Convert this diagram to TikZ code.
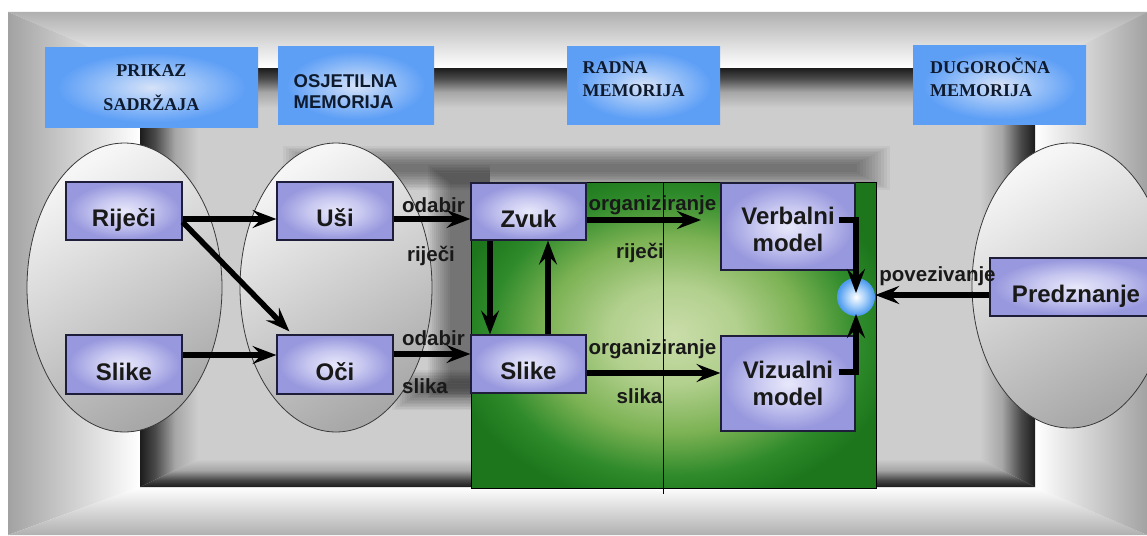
\documentclass[tikz,border=0pt]{standalone}
\usepackage{fontspec}
\setmainfont{Liberation Serif}
\newfontfamily\arialfont{Liberation Sans}
\usetikzlibrary{shapes.geometric,arrows.meta}

% palette
\definecolor{frameA}{HTML}{B0B0B0}
\definecolor{frameB}{HTML}{A2A2A2}
\definecolor{recess}{HTML}{CDCDCD}
\definecolor{bevlight}{HTML}{A6A6A6}
\definecolor{bevmid}{HTML}{4A4A4A}
\definecolor{bevdark}{HTML}{1C1C1C}
\definecolor{hdrA}{HTML}{D6E2F8}
\definecolor{hdrB}{HTML}{9EC4F8}
\definecolor{hdrC}{HTML}{5E9FF6}
\definecolor{lavA}{HTML}{E8E8FB}
\definecolor{lavB}{HTML}{C6C6F0}
\definecolor{lavC}{HTML}{9898DE}
\definecolor{boxline}{HTML}{1E1E3A}
\definecolor{grA}{HTML}{CADDAA}
\definecolor{grA2}{HTML}{B2D08E}
\definecolor{grB}{HTML}{7CB254}
\definecolor{grC}{HTML}{2E8A2A}
\definecolor{grD}{HTML}{1D761C}
\definecolor{orbB}{HTML}{A8D0FA}
\definecolor{orbC}{HTML}{4E9CEE}
\definecolor{hdrtext}{HTML}{0E1A2E}
\definecolor{elA}{HTML}{F6F6F6}
\definecolor{elB}{HTML}{A8A8A8}
\definecolor{elline}{HTML}{3A3A3A}

% shadings (the middle 50bp of each shading covers the filled path)
\pgfdeclareverticalshading{bevelsh}{100bp}{color(0bp)=(recess); color(25bp)=(recess); color(45bp)=(bevlight); color(62bp)=(bevmid); color(75bp)=(bevdark); color(100bp)=(bevdark)}
\pgfdeclareradialshading{hdrglow}{\pgfpoint{0bp}{0bp}}{color(0bp)=(hdrA); color(10bp)=(hdrB); color(22bp)=(hdrC); color(50bp)=(hdrC)}
\pgfdeclareradialshading{lavglow}{\pgfpoint{0bp}{0bp}}{color(0bp)=(lavA); color(12bp)=(lavB); color(24bp)=(lavC); color(50bp)=(lavC)}
\pgfdeclareradialshading{greenglow}{\pgfpoint{0bp}{0bp}}{color(0bp)=(grA); color(8bp)=(grA2); color(16bp)=(grB); color(23bp)=(grC); color(28bp)=(grD); color(50bp)=(grD)}
\pgfdeclareradialshading{orbglow}{\pgfpoint{0bp}{0bp}}{color(0bp)=(white); color(12bp)=(orbB); color(24bp)=(orbC); color(50bp)=(orbC)}

\begin{document}
\begin{tikzpicture}[x=1pt,y=-1pt,
  hdr/.style={rectangle, inner sep=0pt, shade, shading=hdrglow},
  hdrtxt/.style={inner sep=0pt, text=hdrtext, font=\bfseries\fontsize{18}{20}\selectfont},
  hdrsans/.style={inner sep=0pt, text=hdrtext, font=\arialfont\bfseries\fontsize{18.5}{20}\selectfont},
  stage/.style={ellipse, draw=elline, line width=0.8pt, inner sep=0pt, top color=elA, bottom color=elB, shading angle=30},
  unit/.style={rectangle, draw=boxline, line width=1.2pt, shade, shading=lavglow, inner sep=0pt, text=black!90, font=\arialfont\bfseries\fontsize{24}{27}\selectfont},
  unit1/.style={unit, text height=31pt, text depth=0pt},
  unit2/.style={unit, align=center},
  flow/.style={line width=5.5pt, -{Stealth[length=24pt,width=18pt,inset=9pt]}},
  tag/.style={inner sep=0pt, anchor=base, text=black!90, font=\arialfont\bfseries\fontsize{20.5}{24}\selectfont},
  haze/.style={fill=black, fill opacity=0.045, draw=none},
]
\useasboundingbox (0,0) rectangle (1147,535);
\clip (0,0) rectangle (1147,535);
\fill[white] (0,0) rectangle (1147,535);

% outer mitred frame
\shade[top color=frameA, bottom color=white] (8,12) -- (1147,12) -- (1035,68) -- (140,68) -- cycle;
\shade[left color=frameB, right color=white] (8,12) -- (140,68) -- (140,487) -- (8,535) -- cycle;
\shade[top color=white, bottom color=frameA] (140,487) -- (1035,487) -- (1147,535) -- (8,535) -- cycle;
\shade[left color=white, right color=frameB] (1035,68) -- (1147,12) -- (1147,535) -- (1035,487) -- cycle;

% recessed panel with dark bevelled rim
\fill[recess] (140,68) rectangle (1035,487);
\shade[shading=bevelsh] (140,68) -- (1035,68) -- (980,108) -- (198,108) -- cycle;
\shade[shading=bevelsh, shading angle=90] (140,68) -- (198,108) -- (198,459) -- (140,487) -- cycle;
\shade[shading=bevelsh, shading angle=180] (140,487) -- (198,459) -- (980,459) -- (1035,487) -- cycle;
\shade[shading=bevelsh, shading angle=-90] (1035,68) -- (1035,487) -- (980,459) -- (980,108) -- cycle;

% soft blurred shadows around the working-memory panel
\foreach \i in {0,...,11} {
  \fill[haze] (283+3*\i,146+1.6*\i) rectangle (890-3*\i,190-1.6*\i);
  \fill[haze] (428+2*\i,165+1.5*\i) rectangle (490,398-1.5*\i);
  \fill[haze] (392+2.5*\i,370+1.5*\i) rectangle (490,410-1.5*\i);
}

% memory stages
\node[stage, minimum width=195pt, minimum height=289pt] (el1) at (124.5,287.5) {};
\node[stage, minimum width=192pt, minimum height=289pt] (el2) at (336,287.5) {};
\node[stage, minimum width=196pt, minimum height=285pt] (el3) at (1070,285.5) {};

% column headings
\node[hdr, minimum width=213pt, minimum height=79pt] (hd1) at (151.5,87.5) {};
\node[hdrtxt, anchor=base] (hd1a) at (151.5,76.5) {PRIKAZ};
\node[hdrtxt, anchor=base] (hd1b) at (151.5,110) {SADRŽAJA};
\node[hdr, minimum width=156pt, minimum height=77pt] (hd2) at (356,85.5) {};
\node[hdrsans, anchor=base west] (hd2a) at (293.5,87) {OSJETILNA};
\node[hdrsans, anchor=base west] (hd2b) at (293.5,108) {MEMORIJA};
\node[hdr, minimum width=153pt, minimum height=77pt] (hd3) at (643.5,85.5) {};
\node[hdrtxt, anchor=base west] (hd3a) at (582.5,73) {RADNA};
\node[hdrtxt, anchor=base west] (hd3b) at (582.5,96) {MEMORIJA};
\node[hdr, minimum width=173pt, minimum height=78pt] (hd4) at (999.5,85) {};
\node[hdrtxt, anchor=base west] (hd4a) at (930,73) {DUGOROČNA};
\node[hdrtxt, anchor=base west] (hd4b) at (930,96.5) {MEMORIJA};

% working memory panel
\node[rectangle, draw=black, line width=0.8pt, shade, shading=greenglow, inner sep=0pt,
      minimum width=405pt, minimum height=306pt] (wm) at (673.5,335) {};

% units
\node[unit1, minimum width=116pt, minimum height=58pt] (rijeci) at (124,211) {Riječi};
\node[unit1, minimum width=116pt, minimum height=59pt] (slikeL) at (124,364.5) {Slike};
\node[unit1, minimum width=116pt, minimum height=58pt] (usi) at (335,211) {Uši};
\node[unit1, minimum width=116pt, minimum height=59pt] (oci) at (335,364.5) {Oči};
\node[unit1, minimum width=115pt, minimum height=57pt] (zvuk) at (528.5,211.5) {Zvuk};
\node[unit1, minimum width=115pt, minimum height=58pt] (slikeM) at (528.5,364) {Slike};
\node[unit2, minimum width=134pt, minimum height=87pt] (verbal) at (788,226.5) {\rule{0pt}{24pt}Verbalni\\model};
\node[unit2, minimum width=134pt, minimum height=95pt] (vizual) at (788,383.5) {Vizualni\\model};
\node[unit1, minimum width=172pt, minimum height=58pt] (pred) at (1076,287) {Predznanje};

% flows between units
\coordinate (orgR) at (701,220);
\draw[flow] ([yshift=-8pt]rijeci.east) -- ([yshift=-8pt]usi.west);
\draw[flow] ([yshift=-11pt]rijeci.east) -- ([xshift=13pt,yshift=3pt]oci.north west);
\draw[flow] ([yshift=9.5pt]slikeL.east) -- ([yshift=9.5pt]oci.west);
\draw[flow] ([yshift=-8pt]usi.east) -- ([yshift=-8pt]usi.east -| zvuk.west);
\draw[flow] ([yshift=10.5pt]oci.east) -- ([yshift=10.5pt]oci.east -| slikeM.west);
\draw[flow] ([xshift=-38.5pt]zvuk.south) -- ([xshift=-38.5pt]zvuk.south |- slikeM.north);
\draw[flow] ([xshift=19.5pt]slikeM.north) -- ([xshift=19.5pt]slikeM.north |- zvuk.south);
\draw[flow] ([yshift=-8.5pt]zvuk.east) -- (orgR);
\draw[flow] ([yshift=-9pt]slikeM.east) -- ([yshift=-9pt]slikeM.east -| vizual.west);

% integration point
\node[circle, shade, shading=orbglow, minimum size=38pt, inner sep=0pt] (orb) at (856,297) {};
\draw[flow] ([xshift=-17pt,yshift=6.5pt]verbal.east) -| ([yshift=4pt]orb.center);
\draw[flow] ([xshift=-17pt,yshift=11.5pt]vizual.east) -| ([yshift=-17pt]orb.center);
\draw[flow] ([yshift=-8pt]pred.west) -- ([yshift=-8pt]pred.west -| orb.east);

% flow labels
\node[tag] (odabirW) at (433.5,212) {odabir};
\node[tag] (rijeciW) at (431,261) {riječi};
\node[tag] (odabirS) at (433.5,345) {odabir};
\node[tag] (slikaS) at (425,393) {slika};
\node[tag] (orgW) at (652.5,210) {organiziranje};
\node[tag] (rijeciO) at (640,258) {riječi};
\node[tag] (orgS) at (652.5,354) {organiziranje};
\node[tag] (slikaO) at (639.5,403) {slika};
\node[tag] (vezaP) at (937.5,281) {povezivanje};

% divider inside the panel
\draw[line width=0.9pt] (663,182) -- (663,494);
\end{tikzpicture}
\end{document}
